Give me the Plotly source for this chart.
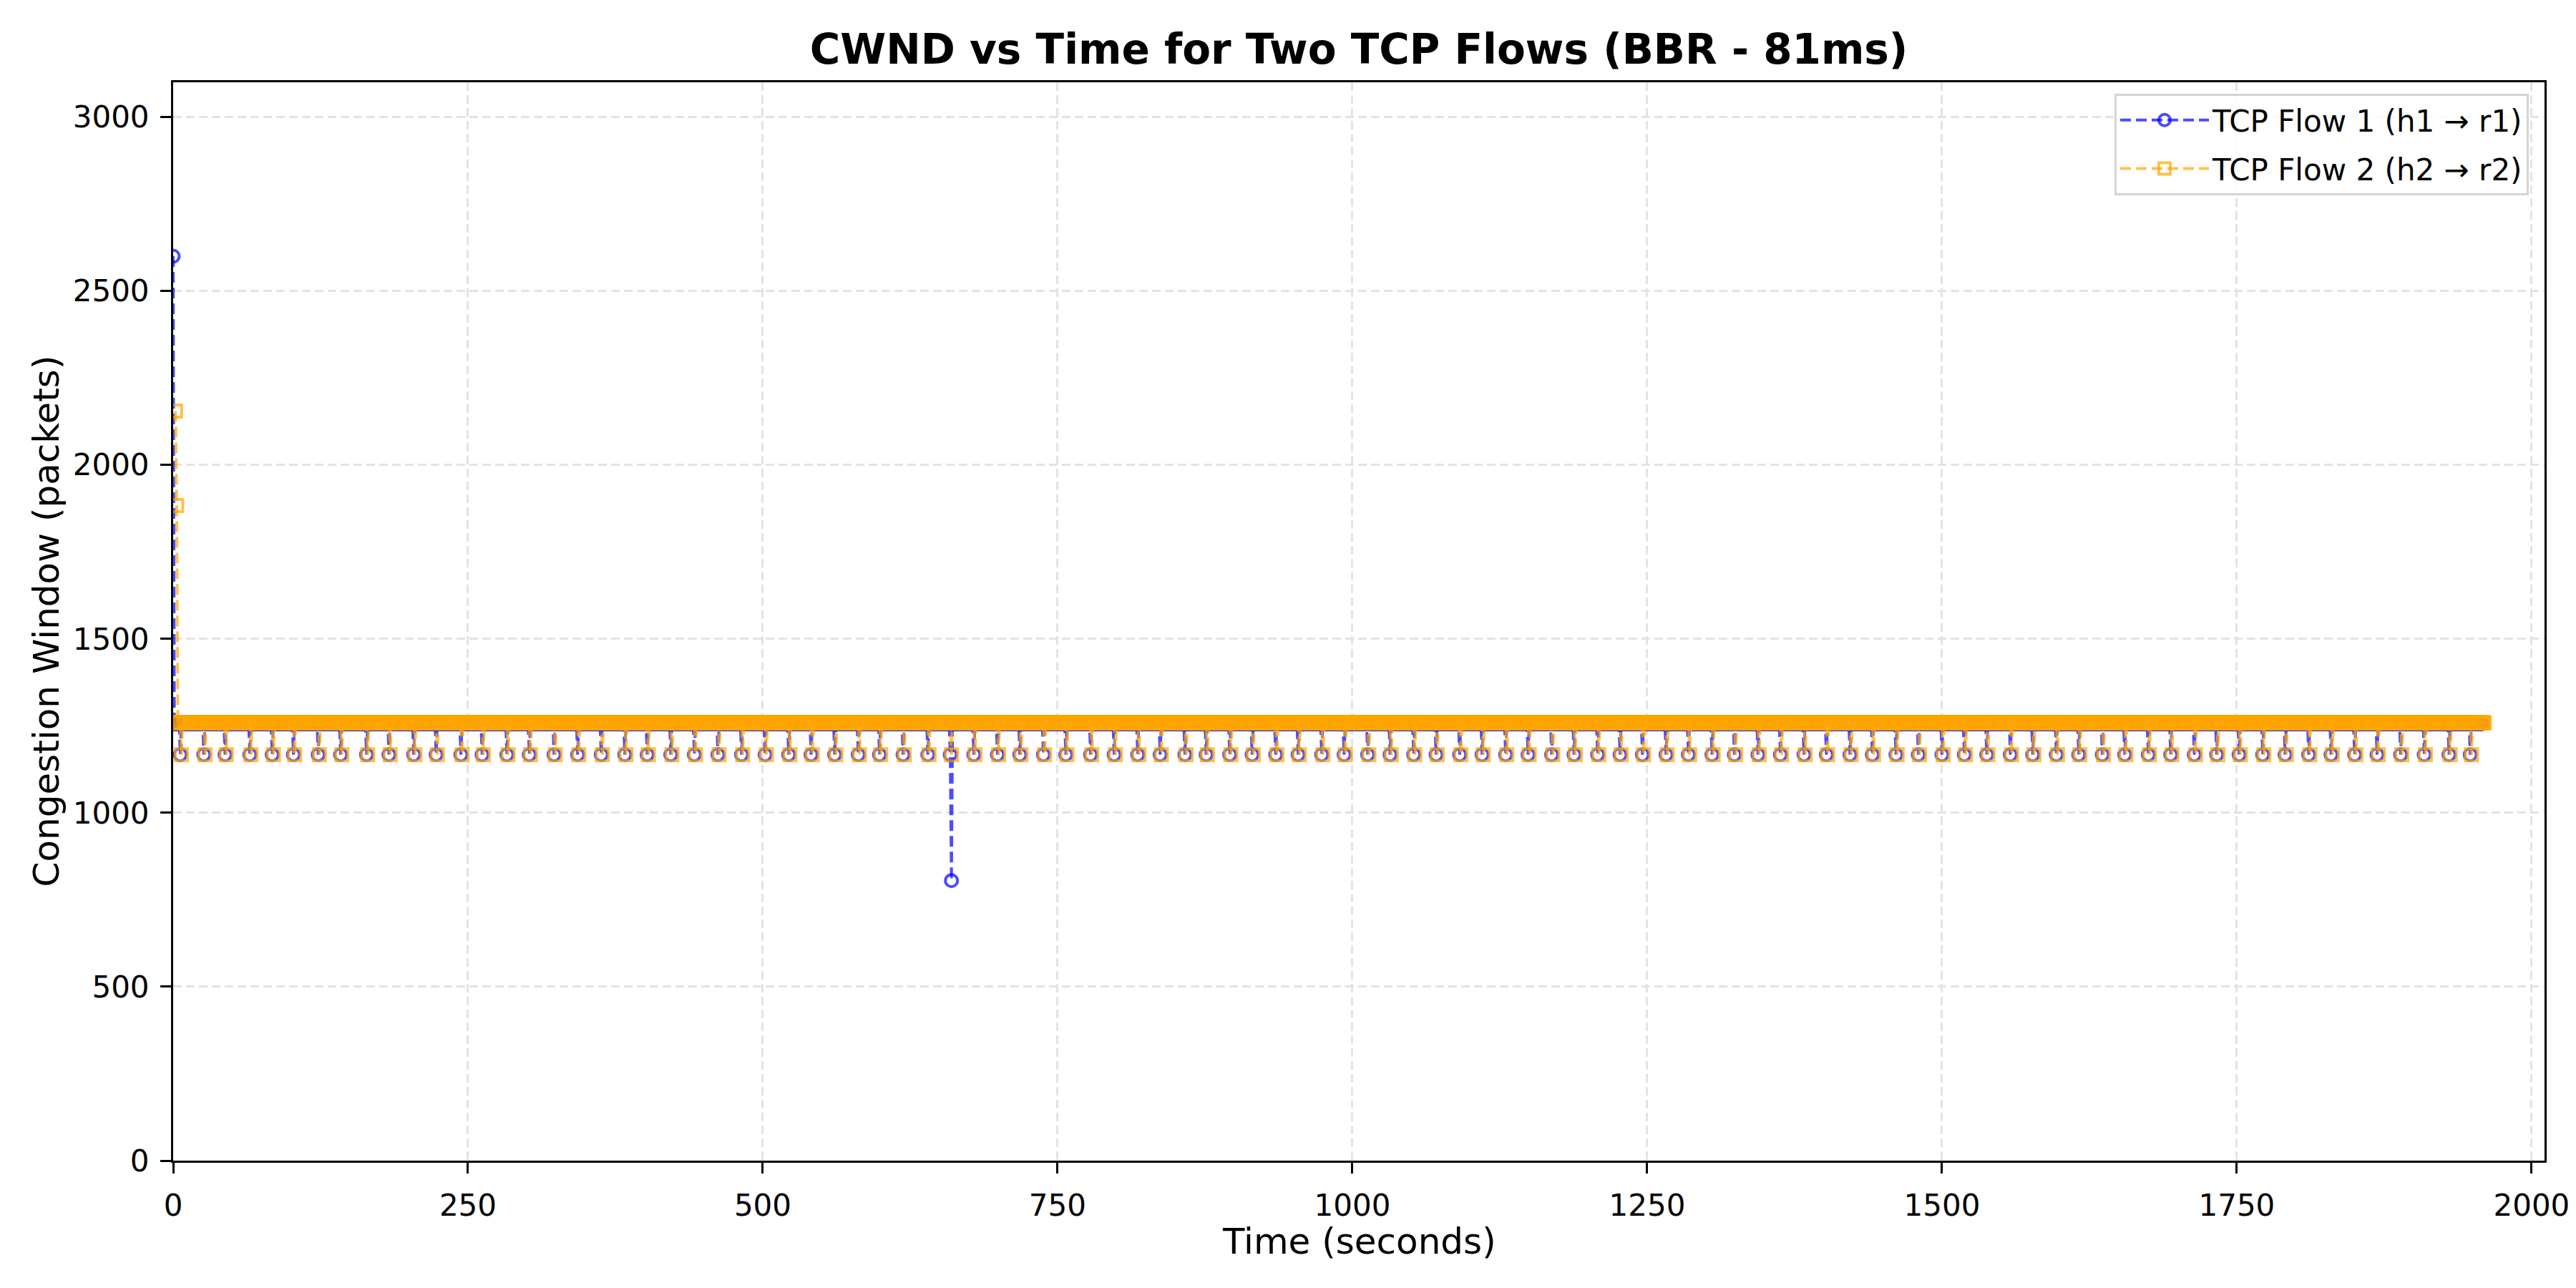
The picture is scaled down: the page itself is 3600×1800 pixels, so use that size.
import plotly.graph_objects as go

# ---------------- data ----------------
SAMPLE_STEP_S = 1            # seconds between samples

FLOW1_NAME = "TCP Flow 1 (h1 → r1)"
FLOW2_NAME = "TCP Flow 2 (h2 → r2)"

# start-up samples (time s, cwnd packets)
FLOW1_START_T = [0]
FLOW1_START_CWND = [2600]
FLOW2_START_T = [2, 3]
FLOW2_START_CWND = [2155, 1883]

# steady state levels
FLOW1_PLATEAU = 1256
FLOW2_PLATEAU = 1259
DIP_CWND = 1167

# periodic dips (seconds)
FLOW1_DIP_TIMES = [
    6, 26, 44, 65, 84, 102, 123, 142, 164, 183, 204, 223, 244, 262, 283, 302, 323,
    343, 363, 383, 402, 422, 442, 462, 482, 502, 522, 541, 561, 581,
    599, 619, 640, 659, 679, 699, 718, 738, 757, 778, 798, 818, 837, 858, 876,
    896, 915, 935, 954, 974, 993, 1013, 1032, 1052, 1071, 1091, 1110, 1130, 1149,
    1169, 1188, 1208, 1227, 1246, 1266, 1285, 1305, 1324, 1344, 1363, 1383, 1402,
    1422, 1441, 1461, 1480, 1500, 1519, 1538, 1558, 1577, 1597, 1616, 1636, 1655,
    1675, 1694, 1714, 1733, 1752, 1772, 1791, 1811, 1830, 1850, 1869,
    1889, 1909, 1930, 1948,
]
FLOW2_DIP_TIMES = [
    7, 27, 45, 66, 85, 103, 124, 143, 165, 184, 205, 224, 245, 263, 284, 303, 324,
    344, 364, 384, 403, 423, 443, 463, 483, 503, 523, 542, 562, 582,
    600, 620, 641, 660, 680, 700, 719, 739, 758, 779, 799, 819, 838, 859, 877,
    897, 916, 936, 955, 975, 994, 1014, 1033, 1053, 1072, 1092, 1111, 1131, 1150,
    1170, 1189, 1209, 1228, 1247, 1267, 1286, 1306, 1325, 1345, 1364, 1384, 1403,
    1423, 1442, 1462, 1481, 1501, 1520, 1539, 1559, 1578, 1598, 1617, 1637, 1656,
    1676, 1695, 1715, 1734, 1753, 1773, 1792, 1812, 1831, 1851, 1870,
    1890, 1910, 1931, 1949,
]

# one deep dip of flow 1
FLOW1_DEEP_DIP_T = [660]
FLOW1_DEEP_DIP_CWND = [805]

FLOW1_END_T = 1958
FLOW2_END_T = 1960

TITLE = "CWND vs Time for Two TCP Flows (BBR - 81ms)"
X_LABEL = "Time (seconds)"
Y_LABEL = "Congestion Window (packets)"
X_TICKS = [0, 250, 500, 750, 1000, 1250, 1500, 1750, 2000]
Y_TICKS = [0, 500, 1000, 1500, 2000, 2500, 3000]
X_RANGE = [0, 2011]
Y_RANGE = [0, 3100]


def build_series(start_t, start_cwnd, plateau, dips, deep_t, deep_cwnd, end_t):
    t = list(start_t)
    y = list(start_cwnd)
    dip_set = set(dips)
    deep = dict(zip(deep_t, deep_cwnd))
    cur = start_t[-1] + SAMPLE_STEP_S
    while cur <= end_t:
        t.append(cur)
        if cur in deep:
            y.append(deep[cur])
        elif cur in dip_set:
            y.append(DIP_CWND)
        else:
            y.append(plateau)
        cur += SAMPLE_STEP_S
    return t, y


t1, y1 = build_series(FLOW1_START_T, FLOW1_START_CWND, FLOW1_PLATEAU,
                      FLOW1_DIP_TIMES, FLOW1_DEEP_DIP_T, FLOW1_DEEP_DIP_CWND, FLOW1_END_T)
t2, y2 = build_series(FLOW2_START_T, FLOW2_START_CWND, FLOW2_PLATEAU,
                      FLOW2_DIP_TIMES, [], [], FLOW2_END_T)

BLUE = "rgba(0,0,255,0.7)"
ORANGE = "rgba(255,165,0,0.7)"
FONT = "DejaVu Sans"

# page body has an 8px offset in the browser; margins compensate for it
ML, MR, MT, MB = 234, 52, 107, 186
PLOT_W = 3600 - ML - MR
PLOT_H = 1800 - MT - MB

fig = go.Figure()
fig.add_trace(go.Scatter(
    x=t1, y=y1, name=FLOW1_NAME, mode="lines+markers", legendgroup="f1",
    line=dict(color=BLUE, width=4, dash="15px,7px"),
    marker=dict(symbol="circle-open", size=17, color=BLUE, line=dict(width=4, color=BLUE)),
))
fig.add_trace(go.Scatter(
    x=t2, y=y2, name=FLOW2_NAME, mode="lines+markers", legendgroup="f2",
    line=dict(color=ORANGE, width=4, dash="15px,7px"),
    marker=dict(symbol="square-open", size=17, color=ORANGE, line=dict(width=4, color=ORANGE)),
))

axis_common = dict(
    showline=True, linecolor="black", linewidth=3, mirror=True,
    ticks="outside", ticklen=15, tickwidth=3, tickcolor="black",
    showgrid=True, gridcolor="#e3e3e3", gridwidth=3, griddash="12px,6px",
    zeroline=False, tickfont=dict(family=FONT, size=42, color="black"),
)

fig.update_layout(
    width=3600, height=1800,
    margin=dict(l=ML, r=MR, t=MT, b=MB),
    paper_bgcolor="white", plot_bgcolor="white",
    font=dict(family=FONT, color="black"),
    title=dict(text="<b>" + TITLE + "</b>", xref="paper", x=0.5, xanchor="center",
               yref="container", y=1 - 61 / 1800, yanchor="middle",
               font=dict(family=FONT, size=58, color="black")),
    xaxis=dict(range=X_RANGE, tickvals=X_TICKS, ticktext=[str(v) for v in X_TICKS],
               ticklabelstandoff=9, **axis_common),
    yaxis=dict(range=Y_RANGE, tickvals=Y_TICKS, ticktext=[str(v) for v in Y_TICKS],
               ticklabelstandoff=7, **axis_common),
    legend=dict(x=(3534 - 242) / PLOT_W, xanchor="right", y=(1622 - 131) / PLOT_H, yanchor="top",
                bgcolor="rgba(255,255,255,0.8)", bordercolor="#d4d4d4", borderwidth=3,
                font=dict(family=FONT, size=42, color="black"), itemwidth=124,
                traceorder="grouped", tracegroupgap=10),
    showlegend=True,
)

fig.add_annotation(text=X_LABEL, xref="paper", yref="paper", x=0.5, y=-(1735 - 1622) / PLOT_H,
                   xanchor="center", yanchor="middle", showarrow=False,
                   font=dict(family=FONT, size=50, color="black"))
fig.add_annotation(text=Y_LABEL, xref="paper", yref="paper", x=-(242 - 64) / PLOT_W, y=0.5,
                   xanchor="center", yanchor="middle", showarrow=False, textangle=-90,
                   font=dict(family=FONT, size=50, color="black"))

fig.write_html("out.html")
